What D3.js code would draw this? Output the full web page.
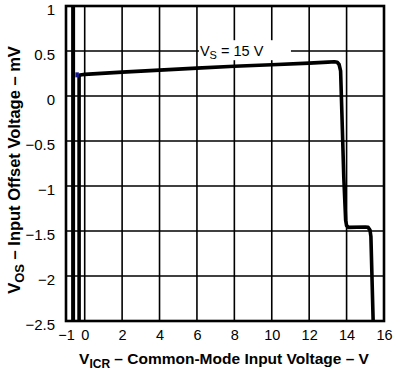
<!DOCTYPE html>
<html>
<head>
<meta charset="utf-8">
<script src="https://cdn.jsdelivr.net/npm/d3@7"></script>
<style>
  body { margin: 0; background: #fff; }
  text { font-family: "Liberation Sans", Arial, sans-serif; }
</style>
</head>
<body>
<div id="chart"></div>
<script>
// Input offset voltage vs common-mode input voltage

// x ticks, y ticks
const xTicks = [-1, 0, 2, 4, 6, 8, 10, 12, 14, 16]
const yTicks = [1, 0.5, 0, -0.5, -1, -1.5, -2, -2.5]

// main curve (VICR in V, VOS in mV)
const curveV = [-0.3, -0.3, -0.25, -0.15, 0, 2, 4, 6, 8, 10, 12, 13, 13.35, 13.5, 13.6, 13.68, 13.75, 13.85, 13.95, 14.0, 14.1, 15.0, 15.15, 15.25, 15.3, 15.42]
const curveVos = [-2.5, 0.215, 0.232, 0.237, 0.24, 0.265, 0.287, 0.31, 0.33, 0.348, 0.365, 0.376, 0.381, 0.375, 0.35, 0.28, -0.2, -0.9, -1.38, -1.44, -1.46, -1.455, -1.46, -1.49, -1.56, -2.5]

// off-scale trace at the left
const edgeV = [-0.62, -0.62]
const edgeVos = [1, -2.5]

const marker = { v: -0.42, vos: 0.235 }

const width = 400
const height = 374
const margin = { top: 6, right: 16, bottom: 53, left: 66 }
const w = width - margin.left - margin.right
const h = height - margin.top - margin.bottom

const svg = d3.select('#chart')
  .append('svg')
  .attr('width', width)
  .attr('height', height)

const x = d3.scaleLinear().domain([-1, 16]).range([margin.left, margin.left + w])
const y = d3.scaleLinear().domain([-2.5, 1]).range([margin.top + h, margin.top])

// Grid
svg.append('g')
  .selectAll('line')
  .data(xTicks.filter(d => d > -1 && d < 16))
  .enter().append('line')
  .attr('x1', d => x(d)).attr('x2', d => x(d))
  .attr('y1', y(1)).attr('y2', y(-2.5))
  .attr('stroke', '#000').attr('stroke-width', 1.6)

svg.append('g')
  .selectAll('line')
  .data(yTicks.filter(d => d < 1 && d > -2.5))
  .enter().append('line')
  .attr('x1', x(-1)).attr('x2', x(16))
  .attr('y1', d => y(d)).attr('y2', d => y(d))
  .attr('stroke', '#000').attr('stroke-width', 1.6)

// Annotation background + text
svg.append('rect')
  .attr('x', x(6) + 2).attr('y', y(0.62))
  .attr('width', 92).attr('height', 20)
  .attr('fill', '#fff')

const ann = svg.append('text')
  .attr('x', x(6) + 3).attr('y', y(0.44))
  .attr('font-size', 14.5)
ann.append('tspan').text('V')
ann.append('tspan').text('S').attr('font-size', 11).attr('dy', 3)
ann.append('tspan').text(' = 15 V').attr('dy', -3)

// Data
const line = d3.line().x(d => x(d[0])).y(d => y(d[1]))

svg.append('path')
  .datum(d3.zip(edgeV, edgeVos))
  .attr('d', line)
  .attr('fill', 'none').attr('stroke', '#000').attr('stroke-width', 4)

svg.append('path')
  .datum(d3.zip(curveV, curveVos))
  .attr('d', line)
  .attr('fill', 'none').attr('stroke', '#000').attr('stroke-width', 3.6)
  .attr('stroke-linejoin', 'round')

svg.append('rect')
  .attr('x', x(marker.v) - 1.5).attr('y', y(marker.vos) - 2.5)
  .attr('width', 3.5).attr('height', 5)
  .attr('fill', '#14148c')

// Frame
svg.append('rect')
  .attr('x', x(-1)).attr('y', y(1))
  .attr('width', w).attr('height', h)
  .attr('fill', 'none').attr('stroke', '#000').attr('stroke-width', 2.6)

// Axes (labels only)
const xAxis = svg.append('g')
  .attr('transform', `translate(0, ${y(-2.5) + 6})`)
  .call(d3.axisBottom(x).tickValues(xTicks).tickSize(0).tickFormat(d3.format('d')))
xAxis.select('.domain').remove()
xAxis.selectAll('text').attr('font-size', 14.5).attr('fill', '#000')
  .attr('font-family', '"Liberation Sans", Arial, sans-serif')

const yAxis = svg.append('g')
  .attr('transform', `translate(${x(-1) - 8}, 4)`)
  .call(d3.axisLeft(y).tickValues(yTicks).tickSize(0).tickFormat(d3.format('')))
yAxis.select('.domain').remove()
yAxis.selectAll('text').attr('font-size', 15).attr('fill', '#000')
  .attr('font-family', '"Liberation Sans", Arial, sans-serif')

// Axis titles
const xt = svg.append('text')
  .attr('x', 224).attr('y', 364)
  .attr('text-anchor', 'middle')
  .attr('font-size', 15.5).attr('font-weight', 'bold')
xt.append('tspan').text('V')
xt.append('tspan').text('ICR').attr('font-size', 12).attr('dy', 4)
xt.append('tspan').text(' – Common-Mode Input Voltage – V').attr('dy', -4)

const yt = svg.append('text')
  .attr('transform', 'translate(20, 170) rotate(-90)')
  .attr('text-anchor', 'middle')
  .attr('font-size', 16.5).attr('font-weight', 'bold')
yt.append('tspan').text('V')
yt.append('tspan').text('OS').attr('font-size', 13).attr('dy', 4)
yt.append('tspan').text(' – Input Offset Voltage – mV').attr('dy', -4)
</script>
</body>
</html>
